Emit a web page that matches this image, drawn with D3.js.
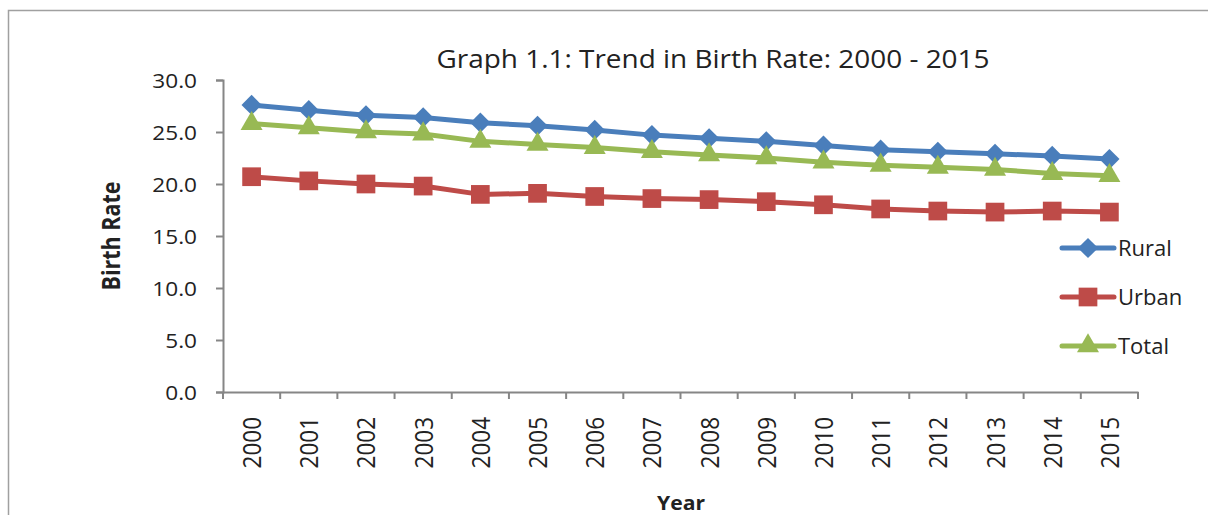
<!DOCTYPE html>
<html>
<head>
<meta charset="utf-8">
<script src="https://cdn.jsdelivr.net/npm/d3@7/dist/d3.min.js"></script>
<style>
    html, body { margin: 0; background: #fff; overflow: hidden; }
    svg { display: block; }
    svg text { font-family: "Open Sans", Lato, sans-serif; fill: #222; }
</style>
</head>
<body>
<div id="chart"></div>
<script>
// chart data
const years = ['2000', '2001', '2002', '2003', '2004', '2005', '2006', '2007',
    '2008', '2009', '2010', '2011', '2012', '2013', '2014', '2015'];
const rural = [27.6, 27.1, 26.6, 26.4, 25.9, 25.6, 25.2, 24.7, 24.4, 24.1, 23.7, 23.3, 23.1, 22.9, 22.7, 22.4];
const urban = [20.7, 20.3, 20.0, 19.8, 19.0, 19.1, 18.8, 18.6, 18.5, 18.3, 18.0, 17.6, 17.4, 17.3, 17.4, 17.3];
const total = [25.8, 25.4, 25.0, 24.8, 24.1, 23.8, 23.5, 23.1, 22.8, 22.5, 22.1, 21.8, 21.6, 21.4, 21.0, 20.8];
const y_ticks = [0, 5, 10, 15, 20, 25, 30];

const series = [
    {name: 'Rural', values: rural, color: '#4a7ebb', symbol: d3.symbolDiamond2, size: 260},
    {name: 'Urban', values: urban, color: '#be4b48', symbol: d3.symbolSquare, size: 350},
    {name: 'Total', values: total, color: '#98b954', symbol: d3.symbolTriangle, size: 210}
];

const width = 1208, height = 515;
const margin = {top: 80, right: 70, bottom: 123, left: 223};

// the original picture is a bit wider than tall, so text gets stretched sideways
function stretch(sel, k) {
    sel.each(function () {
        let len = this.getComputedTextLength();
        d3.select(this).attr('textLength', len * k).attr('lengthAdjust', 'spacingAndGlyphs');
    });
}

const svg = d3.select('#chart').append('svg')
    .attr('width', width)
    .attr('height', height);

// outer frame (only left + top edges are in view)
svg.append('rect')
    .attr('x', 8.5).attr('y', 10.5)
    .attr('width', width + 40).attr('height', height + 40)
    .attr('fill', 'none')
    .attr('stroke', '#a0a0a0')
    .attr('stroke-width', 1.5);

let x = d3.scaleBand()
    .domain(years)
    .range([margin.left, width - margin.right]);

let y = d3.scaleLinear()
    .domain([0, 30])
    .range([height - margin.bottom, margin.top]);

// y axis
let y_axis = svg.append('g')
    .attr('transform', 'translate(' + margin.left + ',0)')
    .call(d3.axisLeft(y).tickValues(y_ticks).tickFormat(d3.format('.1f')).tickSizeOuter(0).tickSize(7).tickPadding(19));
y_axis.selectAll('text').attr('font-size', '20px').attr('dy', '0.35em').call(stretch, 1.13);

// x axis
let x_axis = svg.append('g')
    .attr('transform', 'translate(0,' + (height - margin.bottom) + ')')
    .call(d3.axisBottom(x).tickSize(0).tickSizeOuter(0));
x_axis.selectAll('text')
    .attr('font-size', '22.5px')
    .attr('text-anchor', 'end')
    .attr('transform', 'scale(1.17,1) rotate(-90)')
    .attr('x', -25)
    .attr('y', 0)
    .attr('dy', '0.36em');

// x tick marks sit on band boundaries
let bounds = years.map(d => x(d)).concat([x(years[years.length - 1]) + x.bandwidth()]);
x_axis.selectAll('.bound').data(bounds).enter().append('line')
    .attr('class', 'bound')
    .attr('x1', d => d).attr('x2', d => d)
    .attr('y1', 0).attr('y2', 7);

svg.selectAll('.domain, .tick line, .bound')
    .attr('stroke', '#868686')
    .attr('stroke-width', 2);
svg.selectAll('.tick text').attr('fill', '#222');

// lines and markers
let line = d3.line()
    .x((d, i) => x(years[i]) + x.bandwidth() / 2)
    .y(d => y(d));

series.forEach(function (s) {
    svg.append('path')
        .datum(s.values)
        .attr('d', line)
        .attr('fill', 'none')
        .attr('stroke', s.color)
        .attr('stroke-width', 5)
        .attr('stroke-linejoin', 'round');
});

series.forEach(function (s) {
    svg.append('g').selectAll('path')
        .data(s.values)
        .enter().append('path')
        .attr('d', d3.symbol().type(s.symbol).size(s.size))
        .attr('transform', (d, i) => 'translate(' + (x(years[i]) + x.bandwidth() / 2) + ',' + y(d) + ')')
        .attr('fill', s.color);
});

// legend
let legend = svg.append('g').attr('transform', 'translate(1060,248)');
series.forEach(function (s, i) {
    let g = legend.append('g').attr('transform', 'translate(0,' + (i * 49) + ')');
    g.append('line')
        .attr('x1', 2).attr('x2', 54)
        .attr('stroke', s.color).attr('stroke-width', 5).attr('stroke-linecap', 'round');
    g.append('path')
        .attr('d', d3.symbol().type(s.symbol).size(s.size))
        .attr('transform', 'translate(28,0)')
        .attr('fill', s.color);
    g.append('text')
        .attr('x', 58)
        .attr('dy', '0.36em')
        .attr('font-size', '22px')
        .text(s.name);
});

// title and axis labels
svg.append('text')
    .attr('x', 713).attr('y', 68)
    .attr('text-anchor', 'middle')
    .attr('font-size', '25px')
    .attr('textLength', 553)
    .attr('lengthAdjust', 'spacingAndGlyphs')
    .text('Graph 1.1: Trend in Birth Rate: 2000 - 2015');

svg.append('text')
    .attr('transform', 'translate(120,236) scale(1.2,1) rotate(-90)')
    .attr('text-anchor', 'middle')
    .attr('font-size', '21.5px')
    .attr('font-weight', 'bold')
    .text('Birth Rate');

svg.append('text')
    .attr('x', 681).attr('y', 510)
    .attr('text-anchor', 'middle')
    .attr('font-size', '20px')
    .attr('font-weight', 'bold')
    .attr('textLength', 48)
    .attr('lengthAdjust', 'spacingAndGlyphs')
    .text('Year');
</script>
</body>
</html>
